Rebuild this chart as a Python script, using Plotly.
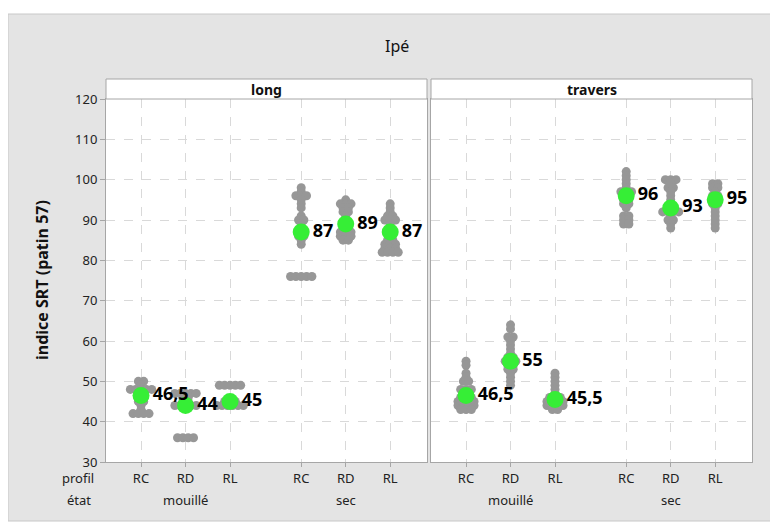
import plotly.graph_objects as go
from collections import Counter

# ---------------- data ----------------
panels = ["long", "travers"]
etats = ["mouillé", "sec"]
profils = ["RC", "RD", "RL"]

long_mouille_RC = [50, 50, 49, 48, 48, 48, 48, 48, 47, 47, 46, 45, 45, 44, 43, 42, 42, 42, 42]
long_mouille_RD = [47, 47, 47, 47, 47, 46, 46, 45, 45, 44, 44, 44, 44, 44, 36, 36, 36, 36]
long_mouille_RL = [49, 49, 49, 49, 49, 45, 45, 45, 44, 44, 44, 44, 44, 44]
long_sec_RC = [98, 97, 96, 96, 96, 95, 94, 93, 91, 90, 90, 89, 88, 87, 86, 86, 85, 84, 76, 76, 76, 76, 76]
long_sec_RD = [95, 94, 94, 94, 93, 93, 92, 92, 91, 90, 89, 88, 87, 87, 87, 86, 86, 86, 85, 85]
long_sec_RL = [94, 93, 92, 91, 91, 90, 90, 90, 89, 88, 87, 86, 85, 85, 84, 84, 84, 83, 83, 83, 82, 82, 82, 82]

trav_mouille_RC = [55, 54, 52, 51, 50, 50, 48, 48, 48, 47, 47, 46, 46, 46, 45, 45, 45, 45, 44, 44, 44, 44, 43, 43, 43]
trav_mouille_RD = [64, 63, 61, 61, 60, 59, 58, 57, 56, 56, 55, 55, 55, 54, 54, 53, 53, 52, 51, 50, 49]
trav_mouille_RL = [52, 51, 50, 49, 48, 47, 46, 46, 46, 45, 45, 45, 45, 44, 44, 44, 44, 43, 43]
trav_sec_RC = [102, 101, 100, 99, 98, 97, 97, 97, 96, 96, 95, 95, 94, 94, 93, 91, 91, 90, 90, 89, 89]
trav_sec_RD = [100, 100, 100, 99, 98, 98, 97, 96, 95, 94, 93, 92, 92, 92, 92, 91, 90, 90, 89, 88]
trav_sec_RL = [99, 99, 98, 98, 97, 96, 96, 95, 95, 94, 94, 93, 92, 91, 90, 89, 88]

long_means = [46.5, 44, 45, 87, 89, 87]
long_labels = ["46,5", "44", "45", "87", "89", "87"]
trav_means = [46.5, 55, 45.5, 96, 93, 95]
trav_labels = ["46,5", "55", "45,5", "96", "93", "95"]

long_groups = [long_mouille_RC, long_mouille_RD, long_mouille_RL, long_sec_RC, long_sec_RD, long_sec_RL]
trav_groups = [trav_mouille_RC, trav_mouille_RD, trav_mouille_RL, trav_sec_RC, trav_sec_RD, trav_sec_RL]

y_ticks = [30, 40, 50, 60, 70, 80, 90, 100, 110, 120]

# ---------------- layout helpers ----------------
OFF = 8  # page body margin
W, H = 770, 517
ML, MR, MT, MB = 98, 26, 71, 63
PW = W - ML - MR
PH = H - MT - MB
STRIP = 20

def px_x(p):  # p = screen pixel
    return (p - OFF - ML) / PW

def px_y(p):
    return (H - MB - (p - OFF)) / PH

group_gap = 1.6
positions = [0, 1, 2, 2 + group_gap, 3 + group_gap, 4 + group_gap]
x_range = [-0.787, 6.427]
step = 0.12

FONT = "Noto Sans"
GRAY = "#979797"
GREEN = "#36EE36"

fig = go.Figure()

for k, (groups, means, labels) in enumerate([(long_groups, long_means, long_labels),
                                             (trav_groups, trav_means, trav_labels)]):
    xa = "x" if k == 0 else "x2"
    ya = "y" if k == 0 else "y2"
    xs, ys = [], []
    for pos, vals in zip(positions, groups):
        cnt = Counter(vals)
        for v, n in cnt.items():
            for i in range(n):
                xs.append(pos + (i - (n - 1) / 2) * step)
                ys.append(v)
    fig.add_trace(go.Scatter(x=xs, y=ys, mode="markers", xaxis=xa, yaxis=ya,
                             marker=dict(size=9, color=GRAY), showlegend=False,
                             hoverinfo="y"))
    fig.add_trace(go.Scatter(x=positions, y=means, mode="markers+text", xaxis=xa, yaxis=ya,
                             text=labels, textposition="middle right",
                             textfont=dict(family=FONT, size=18, color="black", weight="bold"),
                             marker=dict(size=17, color=GREEN), showlegend=False,
                             hoverinfo="y", cliponaxis=False))

d1 = 321 / PW
d2 = (431 - OFF - ML) / PW
ytop = (PH - STRIP) / PH

axis_common = dict(range=x_range, tickvals=positions, ticktext=profils * 2,
                   showgrid=True, gridcolor="#d9d9d9", griddash="dash", gridwidth=1,
                   zeroline=False, showline=True, linecolor="#a6a6a6", linewidth=1, mirror=True,
                   ticks="outside", ticklen=4, tickcolor="#a6a6a6",
                   tickfont=dict(family=FONT, size=13, color="#222222"))
yaxis_common = dict(range=[30, 120], tickvals=y_ticks, showgrid=True, gridcolor="#d9d9d9",
                    griddash="dash", gridwidth=1, zeroline=False, showline=True,
                    linecolor="#a6a6a6", linewidth=1, mirror=True, domain=[0, ytop])

fig.update_layout(
    width=W, height=H,
    margin=dict(l=ML, r=MR, t=MT, b=MB),
    paper_bgcolor="white", plot_bgcolor="white",
    font=dict(family=FONT, color="#222222"),
    xaxis=dict(domain=[0, d1], anchor="y", **axis_common),
    xaxis2=dict(domain=[d2, 1], anchor="y2", **axis_common),
    yaxis=dict(anchor="x", ticks="outside", ticklen=5, tickcolor="#a6a6a6",
               tickfont=dict(family=FONT, size=13, color="#222222"), **yaxis_common),
    yaxis2=dict(anchor="x2", showticklabels=False, **yaxis_common),
)

shapes = [
    dict(type="rect", xref="paper", yref="paper", layer="below",
         x0=px_x(8), x1=px_x(772), y0=px_y(521), y1=px_y(14),
         fillcolor="#e4e4e4", line=dict(color="#c8c8c8", width=1)),
    dict(type="rect", xref="paper", yref="paper", layer="below",
         x0=0, x1=d1, y0=0, y1=ytop, fillcolor="white", line=dict(width=0)),
    dict(type="rect", xref="paper", yref="paper", layer="below",
         x0=d2, x1=1, y0=0, y1=ytop, fillcolor="white", line=dict(width=0)),
    dict(type="rect", xref="paper", yref="paper",
         x0=0, x1=d1, y0=ytop, y1=1, fillcolor="white", line=dict(color="#a6a6a6", width=1)),
    dict(type="rect", xref="paper", yref="paper",
         x0=d2, x1=1, y0=ytop, y1=1, fillcolor="white", line=dict(color="#a6a6a6", width=1)),
]
fig.update_layout(shapes=shapes)

def txt(text, x, y, size=13, xref="paper", xanchor="center", bold=False, angle=0, color="#222222"):
    f = dict(family=FONT, size=size, color=color)
    if bold:
        f["weight"] = "bold"
    return dict(text=text, x=x, y=y, xref=xref, yref="paper", xanchor=xanchor,
                yanchor="middle", showarrow=False, textangle=angle, font=f)

ann = []
ann.append(txt("Ipé", px_x(397), px_y(46), size=16, color="#111111"))
for k, name in enumerate(panels):
    x0, x1 = (0, d1) if k == 0 else (d2, 1)
    ann.append(txt(name, (x0 + x1) / 2, (ytop + 1) / 2, size=14, bold=True, color="#111111"))
ann.append(txt("indice SRT (patin 57)", px_x(42), px_y(280), size=16, bold=True,
               angle=-90, color="#111111"))
ann.append(txt("profil", px_x(96), px_y(478), xanchor="right"))
ann.append(txt("état", px_x(93), px_y(500), xanchor="right"))
for xa in ["x", "x2"]:
    for j, e in enumerate(etats):
        ann.append(txt(e, positions[3 * j + 1], px_y(500), xref=xa))
fig.update_layout(annotations=ann)

fig.write_html("out.html")
